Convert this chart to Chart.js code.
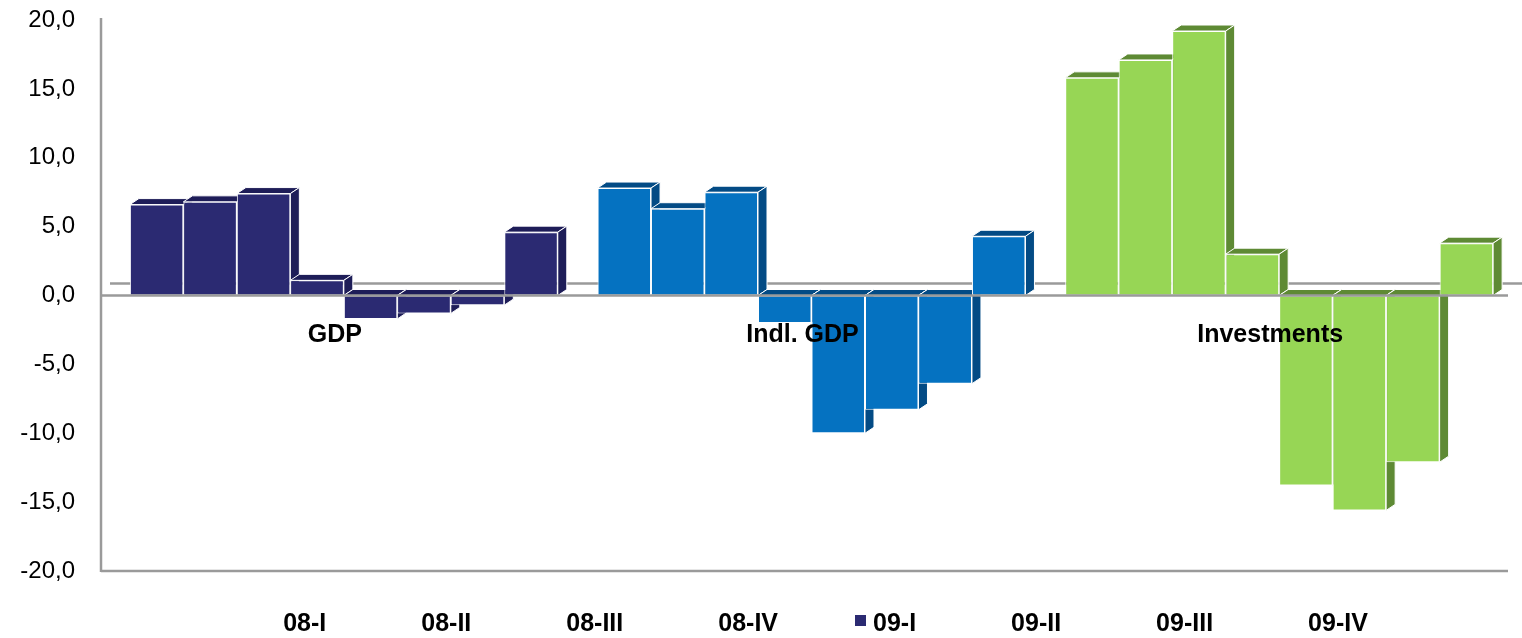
<!DOCTYPE html>
<html>
<head>
<meta charset="utf-8">
<title>GDP, Indl. GDP, Investments</title>
<script src="https://cdn.jsdelivr.net/npm/chart.js@4.4.1/dist/chart.umd.min.js"></script>
<style>
  html, body { margin: 0; padding: 0; background: #fff; }
  #wrap { width: 1522px; height: 638px; position: relative; }
</style>
</head>
<body>
<div id="wrap"><canvas id="growthChart"></canvas></div>
<script>
// Data
const categories = ['GDP', 'Indl. GDP', 'Investments'];
const quarters = ['08-I', '08-II', '08-III', '08-IV', '09-I', '09-II', '09-III', '09-IV'];
const gdp = [6.6, 6.8, 7.4, 1.1, -1.7, -1.3, -0.7, 4.6];
const indlGdp = [7.8, 6.3, 7.5, -2.0, -10.0, -8.3, -6.4, 4.3];
const investments = [15.8, 17.1, 19.2, 3.0, -13.8, -15.6, -12.1, 3.8];
const yTicks = [-20, -15, -10, -5, 0, 5, 10, 15, 20];

// Styles
const fontFamily = '"Liberation Sans", Arial, sans-serif';
const frontColors = ['#2B2A72', '#0572C1', '#97D655'];
const sideColors = ['#1E1D58', '#034B85', '#5E8A34'];
const lineGray = '#9a9a9a';
const depth = { dx: 9, dy: 6 };
const markerIndex = 4; // only 09-I shows a swatch in the legend
const legendGap = 95;

Chart.defaults.font.family = fontFamily;

function drawLine(ctx, x0, y0, x1, y1) {
  ctx.beginPath();
  ctx.moveTo(x0, y0);
  ctx.lineTo(x1, y1);
  ctx.stroke();
}

function drawPoly(ctx, pts) {
  ctx.beginPath();
  ctx.moveTo(pts[0][0], pts[0][1]);
  for (let k = 1; k < pts.length; k++) ctx.lineTo(pts[k][0], pts[k][1]);
  ctx.closePath();
  ctx.fill();
  ctx.stroke();
}

// walls, floor lines and the top/side faces of the bars
const bar3d = {
  id: 'bar3d',
  beforeDatasetsDraw(chart) {
    const ctx = chart.ctx;
    const { left, right } = chart.chartArea;
    const yScale = chart.scales.y;
    const zero = yScale.getPixelForValue(0);
    const yMin = yScale.getPixelForValue(-20);
    const yMax = yScale.getPixelForValue(20);

    ctx.save();
    ctx.strokeStyle = lineGray;
    ctx.lineWidth = 2.5;
    drawLine(ctx, left - depth.dx, yMax - 2, left - depth.dx, yMin + 1);
    drawLine(ctx, left - depth.dx, yMin, right - 5, yMin);
    drawLine(ctx, left, zero - 12, chart.width, zero - 12);

    ctx.lineWidth = 1;
    ctx.strokeStyle = '#ffffff';
    chart.data.datasets.forEach((ds, i) => {
      const meta = chart.getDatasetMeta(i);
      meta.data.forEach((bar, j) => {
        const { x, y, base, width } = bar.getProps(['x', 'y', 'base', 'width'], true);
        const x0 = x - width / 2;
        const x1 = x + width / 2;
        const top = Math.min(y, base);
        const bot = Math.max(y, base);
        ctx.fillStyle = sideColors[j];
        drawPoly(ctx, [[x0, top], [x0 + depth.dx, top - depth.dy], [x1 + depth.dx, top - depth.dy], [x1, top]]);
        drawPoly(ctx, [[x1, top], [x1 + depth.dx, top - depth.dy], [x1 + depth.dx, bot - depth.dy], [x1, bot]]);
      });
    });
    ctx.restore();
  },
  afterDatasetsDraw(chart) {
    const ctx = chart.ctx;
    const { left, right } = chart.chartArea;
    const zero = chart.scales.y.getPixelForValue(0);

    ctx.save();
    ctx.strokeStyle = lineGray;
    ctx.lineWidth = 2.5;
    drawLine(ctx, left - depth.dx, zero, right - 5, zero);

    // category names sit just under the zero line
    ctx.fillStyle = '#000';
    ctx.font = 'bold 25px ' + fontFamily;
    ctx.textAlign = 'center';
    ctx.textBaseline = 'middle';
    categories.forEach((name, j) => {
      ctx.fillText(name, chart.scales.x.getPixelForValue(j) - depth.dx, zero + 40);
    });
    ctx.restore();
  }
};

// quarter legend along the bottom
const quarterLegend = {
  id: 'quarterLegend',
  afterDraw(chart) {
    const ctx = chart.ctx;
    const { left, right, bottom } = chart.chartArea;
    ctx.save();
    ctx.font = 'bold 25px ' + fontFamily;
    ctx.textAlign = 'left';
    ctx.textBaseline = 'alphabetic';
    const labels = chart.data.datasets.map(ds => ds.label);
    const widths = labels.map(t => ctx.measureText(t).width);
    const total = widths.reduce((a, b) => a + b, 0) + legendGap * (labels.length - 1);
    let x = (left + right) / 2 + 14 - total / 2;
    labels.forEach((text, i) => {
      if (i === markerIndex) {
        ctx.fillStyle = frontColors[0];
        ctx.fillRect(x - 18, bottom + 44, 11, 11);
      }
      ctx.fillStyle = '#000';
      ctx.fillText(text, x, bottom + 60);
      x += widths[i] + legendGap;
    });
    ctx.restore();
  }
};

const datasets = quarters.map((q, i) => ({
  label: q,
  data: [gdp[i], indlGdp[i], investments[i]],
  backgroundColor: frontColors,
  borderColor: '#ffffff',
  borderWidth: 1,
  borderSkipped: false,
  barPercentage: 1,
  categoryPercentage: 0.915
}));

const ctx = document.getElementById('growthChart').getContext('2d');
new Chart(ctx, {
  type: 'bar',
  data: { labels: categories, datasets: datasets },
  plugins: [bar3d, quarterLegend],
  options: {
    responsive: true,
    maintainAspectRatio: false,
    animation: false,
    layout: { padding: { left: 0, right: 9, top: 20, bottom: 0 } },
    scales: {
      x: {
        afterFit: (s) => { s.height = 67; s.paddingLeft = 0; s.paddingRight = 0; },
        grid: { display: false, drawTicks: false },
        border: { display: false },
        ticks: { display: false }
      },
      y: {
        min: -20,
        max: 20,
        afterFit: (s) => { s.width = 110; s.paddingTop = 0; s.paddingBottom = 0; },
        afterBuildTicks: (s) => { s.ticks = yTicks.map(v => ({ value: v })); },
        grid: { display: false, drawTicks: false },
        border: { display: false },
        ticks: {
          padding: 35,
          color: '#000',
          font: { size: 24 },
          callback: (v) => Number(v).toFixed(1).replace('.', ',')
        }
      }
    },
    plugins: {
      legend: { display: false },
      tooltip: {
        callbacks: {
          label: function(context) {
            return `${context.dataset.label}: ${context.raw.toFixed(1).replace('.', ',')}`;
          }
        }
      }
    }
  }
});
</script>
</body>
</html>
